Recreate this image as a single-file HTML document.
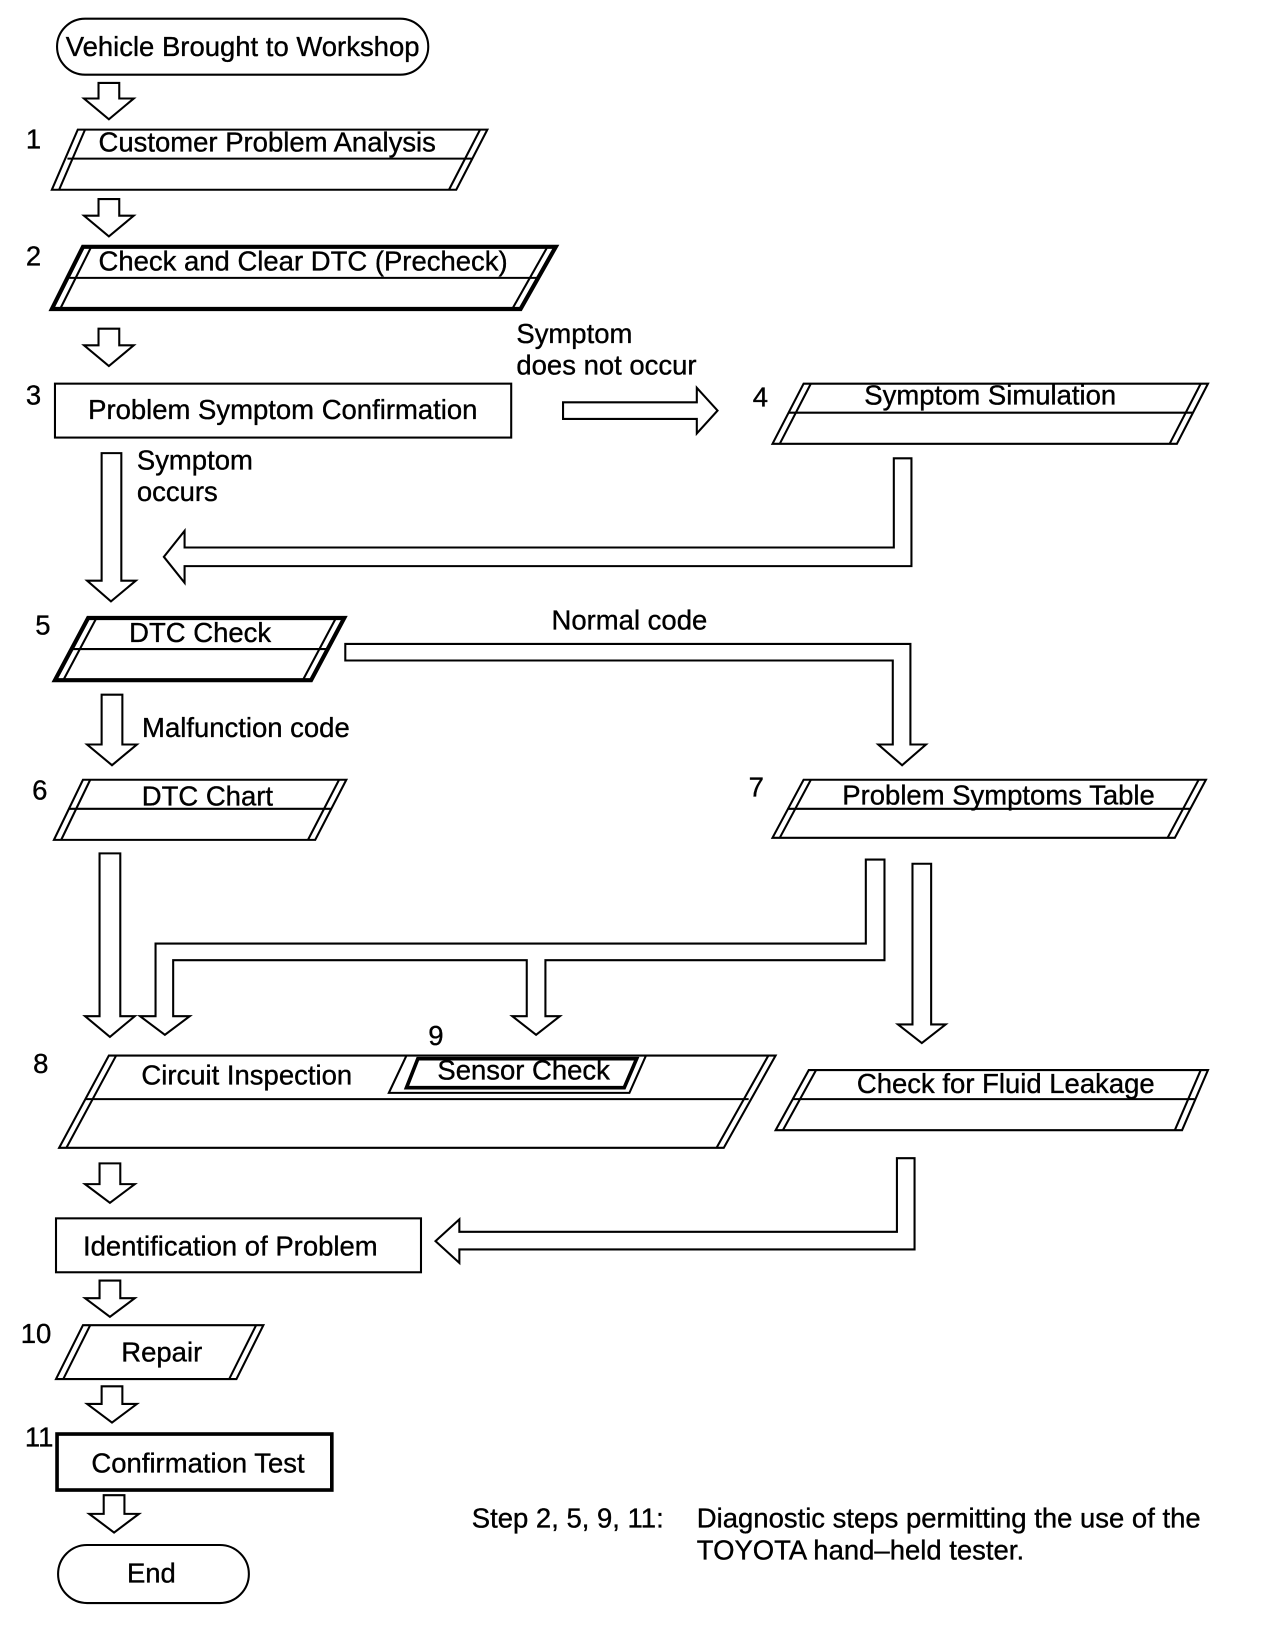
<!DOCTYPE html>
<html><head><meta charset="utf-8"><style>
html,body{margin:0;padding:0;background:#fff}
svg{display:block}
text{font-family:"Liberation Sans",sans-serif;font-size:26.5px;fill:#000;stroke:#000;stroke-width:0.35}
</style></head><body>
<svg width="1264" height="1630" viewBox="0 0 1219 1572" xmlns="http://www.w3.org/2000/svg">
<g fill="none" stroke="#000" stroke-width="2" stroke-linejoin="miter">
<rect x="55" y="18" width="358" height="54" rx="27"/>
<polygon points="75,125 470,125 440,183 50,183"/>
<line x1="82" y1="125" x2="57" y2="183"/><line x1="463" y1="125" x2="433" y2="183"/>
<line x1="65" y1="153" x2="455" y2="153"/>
<polygon points="80,238 536,238 502,298 50,298" stroke-width="4"/>
<line x1="88" y1="238" x2="58" y2="298"/><line x1="528" y1="238" x2="494" y2="298"/>
<line x1="67" y1="268" x2="519" y2="268"/>
<rect x="53" y="370" width="440" height="52"/>
<polygon points="775,370 1165,370 1135,428 745,428"/>
<line x1="782" y1="370" x2="752" y2="428"/><line x1="1158" y1="370" x2="1128" y2="428"/>
<line x1="760" y1="398" x2="1150" y2="398"/>
<polygon points="85,596 332,596 300,656 53,656" stroke-width="4"/>
<line x1="93" y1="596" x2="61" y2="656"/><line x1="324" y1="596" x2="292" y2="656"/>
<line x1="69" y1="626" x2="316" y2="626"/>
<polygon points="80,752 334,752 304,810 52,810"/>
<line x1="87" y1="752" x2="59" y2="810"/><line x1="327" y1="752" x2="297" y2="810"/>
<line x1="66" y1="780" x2="319" y2="780"/>
<polygon points="775,752 1163,752 1133,808 745,808"/>
<line x1="782" y1="752" x2="752" y2="808"/><line x1="1156" y1="752" x2="1126" y2="808"/>
<line x1="760" y1="780" x2="1148" y2="780"/>
<polygon points="105,1018 748,1018 698,1107 57,1107"/>
<line x1="112" y1="1018" x2="64" y2="1107"/><line x1="741" y1="1018" x2="691" y2="1107"/>
<line x1="82" y1="1060" x2="722" y2="1060"/>
<polygon points="392,1018 623,1018 607,1054 375,1054" fill="#fff"/>
<polygon points="403,1021 614,1021 602,1049 392,1049" stroke-width="3.5"/>
<polygon points="780,1032 1165,1032 1140,1090 748,1090"/>
<line x1="787" y1="1032" x2="755" y2="1090"/><line x1="1158" y1="1032" x2="1133" y2="1090"/>
<line x1="765" y1="1060" x2="1152" y2="1060"/>
<rect x="54" y="1175" width="352" height="52"/>
<polygon points="80,1278 254,1278 228,1330 54,1330"/>
<line x1="87" y1="1278" x2="61" y2="1330"/><line x1="247" y1="1278" x2="221" y2="1330"/>
<rect x="55" y="1383" width="265" height="54" stroke-width="3.5"/>
<rect x="56" y="1490" width="184" height="56" rx="28"/>
<path d="M95 80 H115 V95 H129 L105 115 L81 95 H95 Z"/>
<path d="M95 192 H115 V208 H129 L105 228 L81 208 H95 Z"/>
<path d="M95 317 H115 V333 H129 L105 353 L81 333 H95 Z"/>
<path d="M98 437 H117 V560 H131 L107 580 L84 560 H98 Z"/>
<path d="M98 670 H118 V718 H132 L108 738 L84 718 H98 Z"/>
<path d="M96 823 H116 V980 H130 L106 1000 L82 980 H96 Z"/>
<path d="M96 1122 H116 V1142 H130 L106 1160 L82 1142 H96 Z"/>
<path d="M96 1235 H116 V1252 H130 L106 1270 L82 1252 H96 Z"/>
<path d="M98 1337 H118 V1354 H132 L108 1372 L84 1354 H98 Z"/>
<path d="M100 1442 H120 V1460 H134 L110 1478 L86 1460 H100 Z"/>
<path d="M543 388 H672 V374 L692 396 L672 418 V404 H543 Z"/>
<path d="M879 442 V546 H178 V562 L158 537 L178 512 V528 H862 V442 Z"/>
<path d="M333 621 H878 V718 H893 L870 738 L847 718 H861 V637 H333 Z"/>
<path d="M835 829 H853 V926 H526 V980 H540 L517 998 L494 980 H508 V926 H167 V980 H183 L159 998 L135 980 H150 V910 H835 Z"/>
<path d="M880 833 H898 V988 H912 L889 1006 L866 988 H880 Z"/>
<path d="M865 1117 H882 V1205 H443 V1218 L420 1197 L443 1176 V1188 H865 Z"/>
</g>
<text x="234" y="54" text-anchor="middle">Vehicle Brought to Workshop</text>
<text x="25" y="143">1</text>
<text x="95" y="146">Customer Problem Analysis</text>
<text x="25" y="256">2</text>
<text x="95" y="261">Check and Clear DTC (Precheck)</text>
<text x="25" y="390">3</text>
<text x="85" y="404">Problem Symptom Confirmation</text>
<text x="498" y="331">Symptom</text>
<text x="498" y="361">does not occur</text>
<text x="726" y="392">4</text>
<text x="955" y="390" text-anchor="middle">Symptom Simulation</text>
<text x="132" y="453">Symptom</text>
<text x="132" y="483">occurs</text>
<text x="34" y="612">5</text>
<text x="193" y="619" text-anchor="middle">DTC Check</text>
<text x="607" y="607" text-anchor="middle">Normal code</text>
<text x="137" y="711">Malfunction code</text>
<text x="31" y="771">6</text>
<text x="200" y="777" text-anchor="middle">DTC Chart</text>
<text x="722" y="768">7</text>
<text x="963" y="776" text-anchor="middle">Problem Symptoms Table</text>
<text x="32" y="1035">8</text>
<text x="238" y="1046" text-anchor="middle">Circuit Inspection</text>
<text x="413" y="1008">9</text>
<text x="505" y="1041" text-anchor="middle">Sensor Check</text>
<text x="970" y="1054" text-anchor="middle">Check for Fluid Leakage</text>
<text x="80" y="1211">Identification of Problem</text>
<text x="20" y="1295">10</text>
<text x="156" y="1313" text-anchor="middle">Repair</text>
<text x="24" y="1395">11</text>
<text x="191" y="1420" text-anchor="middle">Confirmation Test</text>
<text x="146" y="1526" text-anchor="middle">End</text>
<text x="455" y="1473">Step 2, 5, 9, 11:</text>
<text x="672" y="1473">Diagnostic steps permitting the use of the</text>
<text x="672" y="1504">TOYOTA hand–held tester.</text>
</svg>
</body></html>
